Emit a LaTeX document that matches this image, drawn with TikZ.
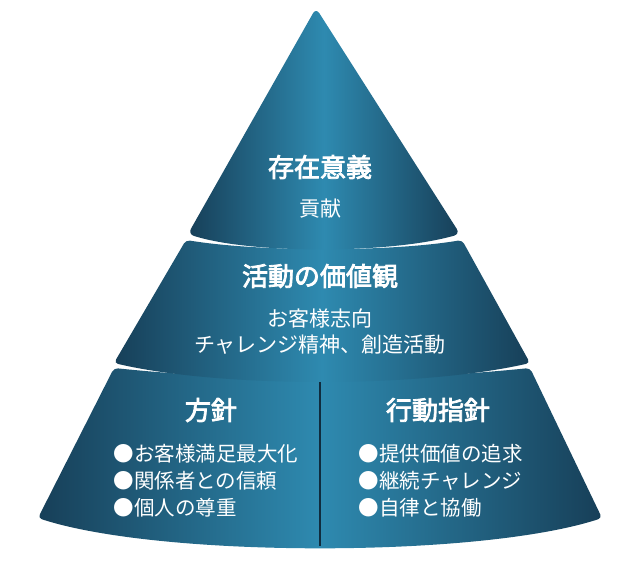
\documentclass[tikz,border=0pt]{standalone}
\usepackage{fontspec}
\setmainfont{Noto Sans CJK JP}
\newfontfamily\jpb{Noto Sans CJK JP}[FakeBold=3]
\begin{document}
\begin{tikzpicture}[x=1pt,y=1pt,
  ttl/.style={text=white,font=\jpb\fontsize{26}{28}\selectfont},
  bdy/.style={text=white,font=\fontsize{20.5}{27}\selectfont,align=left},
  bdyc/.style={text=white,font=\fontsize{21}{26}\selectfont,align=center}]
\useasboundingbox[fill=white] (0,0) rectangle (640,560);
\definecolor{cedge}{HTML}{173F58}
\definecolor{cmid}{HTML}{2E8AB0}
\tikzset{tier/.style={draw=none,left color=cedge,right color=cedge,middle color=cmid}}
% bottom tier
\path[tier,rounded corners=4] (114,192) .. controls (250,178) and (390,178) .. (530,192) -- (602,42) .. controls (480,2) and (160,2) .. (38,42) -- cycle;
\draw[cedge!70!black,line width=1.5] (320,183) -- (320,14);
% middle tier
\path[tier,rounded corners=4] (186,320) .. controls (260,308) and (390,308) .. (462,320) -- (530,197) .. controls (420,172) and (220,172) .. (114,197) -- cycle;
% top tier
\path[tier,rounded corners=6] (316,552) -- (188,326) .. controls (250,306) and (390,306) .. (460,326) -- cycle;
% texts
\node[ttl] (t1) at (320,393) {存在意義};
\node[bdyc] (b1) at (320,351) {貢献};
\node[ttl] (t2) at (320,284) {活動の価値観};
\node[bdyc] (b2) at (320,228) {お客様志向\\チャレンジ精神、創造活動};
\node[ttl] (t3) at (211,150) {方針};
\node[bdy,anchor=west] (b3) at (110,79) {●お客様満足最大化\\●関係者との信頼\\●個人の尊重};
\node[ttl] (t4) at (438,150) {行動指針};
\node[bdy,anchor=west] (b4) at (355,79) {●提供価値の追求\\●継続チャレンジ\\●自律と協働};
\end{tikzpicture}
\end{document}
